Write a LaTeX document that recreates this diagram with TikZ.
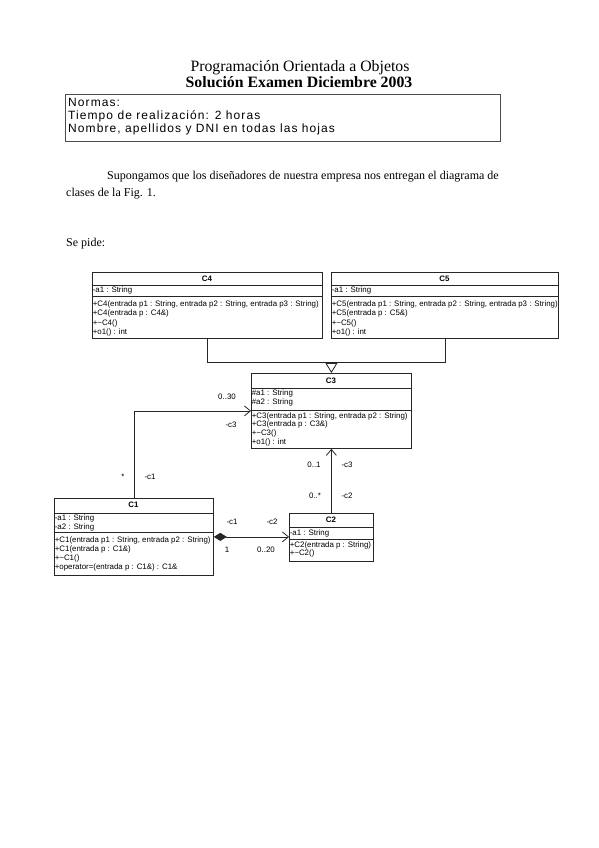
\documentclass[tikz,border=0pt]{standalone}
\usepackage{fontspec}
\setmainfont{Liberation Serif}
\setsansfont{Liberation Sans}
\newfontfamily\normasfont[LetterSpace=9]{Liberation Sans}
\usetikzlibrary{arrows.meta}

\begin{document}
\begin{tikzpicture}[x=1pt,y=-1pt,
   classbox/.style={draw=black!85, line width=.8pt, anchor=north west, inner sep=0pt},
   uml/.style={font=\sffamily\fontsize{7.9}{9}\selectfont, anchor=west, inner sep=.6pt},
   umlname/.style={font=\sffamily\bfseries\fontsize{7.9}{9}\selectfont, inner sep=0pt},
   role/.style={font=\sffamily\fontsize{7.9}{9}\selectfont, inner sep=0pt},
   normas/.style={anchor=base west, font=\normasfont\fontsize{12}{13}\selectfont, inner sep=0pt},
   assoc/.style={draw=black!85, line width=.8pt, -{Straight Barb[length=6pt,width=10pt]}},
   sepline/.style={draw=black!85, line width=.8pt}]
   \useasboundingbox (0,0) rectangle (599,848);

   % cabecera
   \node[anchor=base, font=\fontsize{15.8}{18}\selectfont] (tit1) at (300,72) {Programación Orientada a Objetos};
   \node[anchor=base, font=\bfseries\fontsize{15.8}{18}\selectfont] (tit2) at (299,88) {Solución Examen Diciembre 2003};
   \node[draw=black!70, line width=.8pt, anchor=north west, minimum width=435pt, minimum height=47pt] (normas) at (65,94) {};
   \node[normas] (n1) at (68,107) {Normas:};
   \node[normas] (n2) at (68,119.5) {Tiempo de realización: 2 horas};
   \node[normas] (n3) at (68,132) {Nombre, apellidos y DNI en todas las hojas};

   \node[anchor=base west, font=\fontsize{12}{14}\selectfont, inner sep=0pt] (p1) at (107,179) {Supongamos que los diseñadores de nuestra empresa nos entregan el diagrama de};
   \node[anchor=base west, font=\fontsize{12}{14}\selectfont, inner sep=0pt] (p2) at (66,196) {clases de la Fig. 1.};
   \node[anchor=base west, font=\fontsize{12}{14}\selectfont, inner sep=0pt] (p3) at (66,246) {Se pide:};

   % C4
   \node[classbox, minimum width=230pt, minimum height=66pt] (C4) at (92,272) {};
   \draw[sepline] (92,285) -- (322,285);
   \draw[sepline] (92,296) -- (322,296);
   \node[umlname] (C4n) at (207,278.5) {C4};
   \node[uml] (C4a) at (92,290.5) {-a1 : String};
   \foreach \m [count=\i from 0] in {{+C4(entrada p1 : String, entrada p2 : String, entrada p3 : String)},
      {+C4(entrada p : C4\&)}, {+\textasciitilde C4()}, {+o1() : int}}
      \node[uml] (C4m\i) at (92,304.5+9.3*\i) {\m};

   % C5
   \node[classbox, minimum width=227pt, minimum height=66pt] (C5) at (331,272) {};
   \draw[sepline] (331,285) -- (558,285);
   \draw[sepline] (331,296) -- (558,296);
   \node[umlname] (C5n) at (444.5,278.5) {C5};
   \node[uml] (C5a) at (331,290.5) {-a1 : String};
   \foreach \m [count=\i from 0] in {{+C5(entrada p1 : String, entrada p2 : String, entrada p3 : String)},
      {+C5(entrada p : C5\&)}, {+\textasciitilde C5()}, {+o1() : int}}
      \node[uml] (C5m\i) at (331,304.5+9.3*\i) {\m};

   % C3
   \node[classbox, minimum width=160pt, minimum height=75pt] (C3) at (251,373) {};
   \draw[sepline] (251,388) -- (411,388);
   \draw[sepline] (251,410) -- (411,410);
   \node[umlname] (C3n) at (331,381) {C3};
   \node[uml] (C3a1) at (251,393) {\#a1 : String};
   \node[uml] (C3a2) at (251,402) {\#a2 : String};
   \foreach \m [count=\i from 0] in {{+C3(entrada p1 : String, entrada p2 : String)},
      {+C3(entrada p : C3\&)}, {+\textasciitilde C3()}, {+o1() : int}}
      \node[uml] (C3m\i) at (251,416+8.7*\i) {\m};

   % C1
   \node[classbox, minimum width=159pt, minimum height=77pt] (C1) at (54,498) {};
   \draw[sepline] (54,513) -- (213,513);
   \draw[sepline] (54,532) -- (213,532);
   \node[umlname] (C1n) at (133.5,505) {C1};
   \node[uml] (C1a1) at (54,518) {-a1 : String};
   \node[uml] (C1a2) at (54,527) {-a2 : String};
   \foreach \m [count=\i from 0] in {{+C1(entrada p1 : String, entrada p2 : String)},
      {+C1(entrada p : C1\&)}, {+\textasciitilde C1()}, {+operator=(entrada p : C1\&) : C1\&}}
      \node[uml] (C1m\i) at (54,540+9.2*\i) {\m};

   % C2
   \node[classbox, minimum width=84pt, minimum height=48pt] (C2) at (289,513) {};
   \draw[sepline] (289,527) -- (373,527);
   \draw[sepline] (289,539) -- (373,539);
   \node[umlname] (C2n) at (331,519.5) {C2};
   \node[uml] (C2a) at (289,533) {-a1 : String};
   \node[uml] (C2m0) at (289,545) {+C2(entrada p : String)};
   \node[uml] (C2m1) at (289,553) {+\textasciitilde C2()};

   % herencia
   \coordinate (gen) at (C3.north |- 0,362);
   \draw[sepline] (C4.south) -- (C4.south |- gen) -- (C5.south |- gen) -- (C5.south);
   \draw[sepline, -{Triangle[open, length=10pt, width=12pt]}] (gen) -- (C3.north);

   % asociaciones
   \draw[assoc] (C1.north) |- (C3.west);
   \draw[assoc] (C2.north) -- (C2.north |- C3.south);
   \draw[assoc, {Diamond[length=13pt, width=8pt]}-{Straight Barb[length=6pt,width=10pt]}] (C1.east) -- (C1.east -| C2.west);

   \node[role] (r1) at (227,397) {0..30};
   \node[role] (r2) at (231,425) {-c3};
   \node[role] (r3) at (123,477) {*};
   \node[role] (r4) at (150,477) {-c1};
   \node[role] (r5) at (232,522) {-c1};
   \node[role] (r6) at (272,522) {-c2};
   \node[role] (r7) at (227,550) {1};
   \node[role] (r8) at (266,550) {0..20};
   \node[role] (r9) at (314,465) {0..1};
   \node[role] (r10) at (347,465) {-c3};
   \node[role] (r11) at (315,496) {0..*};
   \node[role] (r12) at (347,496) {-c2};

\end{tikzpicture}
\end{document}
